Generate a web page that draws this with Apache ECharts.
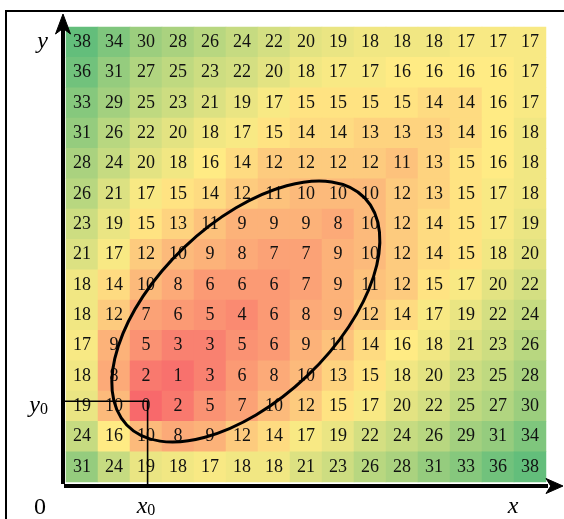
<!DOCTYPE html>
<html>
<head>
    <meta charset="utf-8">
    <title>heatmap</title>
    <script src="https://cdn.jsdelivr.net/npm/echarts@6/dist/echarts.min.js"></script>
    <style>
        html, body { margin: 0; padding: 0; background: #fff; overflow: hidden; }
        #frame { position: absolute; left: 5px; top: 10px; width: 570px; height: 520px;
                 border-left: 2px solid #000; border-top: 2px solid #000; }
        #main { position: absolute; left: 0; top: 0; width: 564px; height: 519px; }
    </style>
</head>
<body>
<div id="frame"></div>
<div id="main"></div>
<script>
    var xCats = ['0', '1', '2', '3', '4', '5', '6', '7', '8', '9', '10', '11', '12', '13', '14'];
    var yCats = ['0', '1', '2', '3', '4', '5', '6', '7', '8', '9', '10', '11', '12', '13', '14'];

    // rows from top to bottom
    var rows = [
        [38, 34, 30, 28, 26, 24, 22, 20, 19, 18, 18, 18, 17, 17, 17],
        [36, 31, 27, 25, 23, 22, 20, 18, 17, 17, 16, 16, 16, 16, 17],
        [33, 29, 25, 23, 21, 19, 17, 15, 15, 15, 15, 14, 14, 16, 17],
        [31, 26, 22, 20, 18, 17, 15, 14, 14, 13, 13, 13, 14, 16, 18],
        [28, 24, 20, 18, 16, 14, 12, 12, 12, 12, 11, 13, 15, 16, 18],
        [26, 21, 17, 15, 14, 12, 11, 10, 10, 10, 12, 13, 15, 17, 18],
        [23, 19, 15, 13, 11, 9, 9, 9, 8, 10, 12, 14, 15, 17, 19],
        [21, 17, 12, 10, 9, 8, 7, 7, 9, 10, 12, 14, 15, 18, 20],
        [18, 14, 10, 8, 6, 6, 6, 7, 9, 11, 12, 15, 17, 20, 22],
        [18, 12, 7, 6, 5, 4, 6, 8, 9, 12, 14, 17, 19, 22, 24],
        [17, 9, 5, 3, 3, 5, 6, 9, 11, 14, 16, 18, 21, 23, 26],
        [18, 8, 2, 1, 3, 6, 8, 10, 13, 15, 18, 20, 23, 25, 28],
        [19, 10, 0, 2, 5, 7, 10, 12, 15, 17, 20, 22, 25, 27, 30],
        [24, 16, 10, 8, 9, 12, 14, 17, 19, 22, 24, 26, 29, 31, 34],
        [31, 24, 19, 18, 17, 18, 18, 21, 23, 26, 28, 31, 33, 36, 38]
    ];

    var xTickLabels = ['', '', 'x0', '', '', '', '', '', '', '', '', '', '', '', ''];
    var yTickLabels = ['', '', 'y0', '', '', '', '', '', '', '', '', '', '', '', 'y'];

    // marked point (x0, y0) and the ellipse, in cell units
    var guide = { x: 2.05, y: 2.16 };
    var ell = { cx: 5.12, cy: 5.12, rx: 5.14, ry: 2.78, angle: 43.6 };

    var xAxisOffset = 4, yAxisOffset = 3;
    var serif = 'Liberation Serif';

    var cells = [];
    rows.forEach(function (row, r) {
        row.forEach(function (v, c) {
            cells.push([c, rows.length - 1 - r, v]);
        });
    });

    // green-yellow-red scale, yellow at the median
    var all = cells.map(function (d) { return d[2]; }).sort(function (a, b) { return a - b; });
    var vMin = all[0], vMax = all[all.length - 1], vMid = all[Math.floor(all.length / 2)];
    var red = [248, 105, 107], yellow = [255, 235, 132], green = [99, 190, 123];
    function mix(a, b, t) {
        return 'rgb(' + a.map(function (c, i) { return Math.round(c + (b[i] - c) * t); }).join(',') + ')';
    }
    var stops = [];
    for (var v = vMin; v <= vMax; v++) {
        stops.push(v <= vMid ? mix(red, yellow, (v - vMin) / (vMid - vMin))
                             : mix(yellow, green, (v - vMid) / (vMax - vMid)));
    }

    var rich = {
        v: { fontFamily: serif, fontStyle: 'italic', fontSize: 24, color: '#000' },
        s: { fontFamily: serif, fontSize: 16, color: '#000', verticalAlign: 'bottom' }
    };
    function fmt(t) {
        if (!t) return '';
        return t.length > 1 ? '{v|' + t[0] + '}{s|' + t.slice(1) + '}' : '{v|' + t + '}';
    }

    // arrow head: tip point, unit direction, length, half width
    function arrowHead(tip, dir, len, half) {
        var nx = -dir[1], ny = dir[0];
        var bx = tip[0] - dir[0] * len, by = tip[1] - dir[1] * len;
        var mx = tip[0] - dir[0] * len * 0.72, my = tip[1] - dir[1] * len * 0.72;
        return {
            type: 'polygon',
            shape: { points: [tip, [bx + nx * half, by + ny * half], [mx, my], [bx - nx * half, by - ny * half]] },
            style: { fill: '#000', stroke: '#000', lineWidth: 1 }
        };
    }

    var chart = echarts.init(document.getElementById('main'));
    var axisLineStyle = { color: '#000', width: 4, cap: 'square' };
    var option = {
        animation: false,
        grid: { left: 66, top: 27, width: 480, height: 456 },
        xAxis: {
            type: 'category',
            data: xCats,
            offset: xAxisOffset,
            axisTick: { show: false },
            splitLine: { show: false },
            axisLine: { lineStyle: axisLineStyle },
            axisLabel: {
                interval: 0,
                margin: 9,
                formatter: function (value, i) { return fmt(xTickLabels[i]); },
                rich: rich
            },
            name: 'x',
            nameLocation: 'end',
            nameGap: -33,
            nameTextStyle: {
                fontFamily: serif, fontStyle: 'italic', fontSize: 24, color: '#000',
                align: 'center', verticalAlign: 'top', padding: [9, 0, 0, 0]
            }
        },
        yAxis: {
            type: 'category',
            data: yCats,
            offset: yAxisOffset,
            axisTick: { show: false },
            splitLine: { show: false },
            axisLine: { lineStyle: axisLineStyle },
            axisLabel: {
                interval: 0,
                margin: 15,
                formatter: function (value, i) { return fmt(yTickLabels[i]); },
                rich: rich
            }
        },
        visualMap: {
            show: false,
            type: 'continuous',
            seriesIndex: 0,
            dimension: 2,
            min: vMin,
            max: vMax,
            inRange: { color: stops }
        },
        graphic: [{
            type: 'text',
            x: 40,
            y: 508,
            style: { text: '0', fontFamily: serif, fontSize: 24, fill: '#000', align: 'center', verticalAlign: 'middle' }
        }],
        series: [{
            type: 'heatmap',
            data: cells,
            label: { show: true, color: '#111', fontFamily: serif, fontSize: 18 },
            emphasis: { disabled: true }
        }, {
            type: 'custom',
            z: 10,
            clip: false,
            silent: true,
            data: [[0, 0]],
            renderItem: function (params, api) {
                var o = api.coord([0, 0]);
                var cell = api.size([1, 1]);
                var px = function (x) { return o[0] + x * cell[0]; };
                var py = function (y) { return o[1] - y * cell[1]; };
                var axisX = px(-0.5) - yAxisOffset;
                var axisY = py(-0.5) + xAxisOffset;
                var gx = px(guide.x), gy = py(guide.y);
                return {
                    type: 'group',
                    children: [{
                        type: 'polyline',
                        shape: { points: [[axisX, gy], [gx, gy], [gx, axisY]] },
                        style: { stroke: '#000', lineWidth: 1.6, fill: 'none' }
                    }, {
                        type: 'ellipse',
                        x: px(ell.cx),
                        y: py(ell.cy),
                        rotation: ell.angle * Math.PI / 180,
                        shape: { cx: 0, cy: 0, rx: ell.rx * cell[0], ry: ell.ry * cell[0] },
                        style: { stroke: '#000', lineWidth: 3, fill: 'none' }
                    }, {
                        type: 'line',
                        shape: { x1: axisX, y1: py(14.5), x2: axisX, y2: py(14.5) - 8 },
                        style: { stroke: '#000', lineWidth: 4 }
                    },
                    arrowHead([axisX, py(14.5) - 13], [0, -1], 20, 7.5),
                    arrowHead([px(14.5) + 17, axisY], [1, 0], 17, 7.5)]
                };
            }
        }]
    };
    chart.setOption(option);
</script>
</body>
</html>
